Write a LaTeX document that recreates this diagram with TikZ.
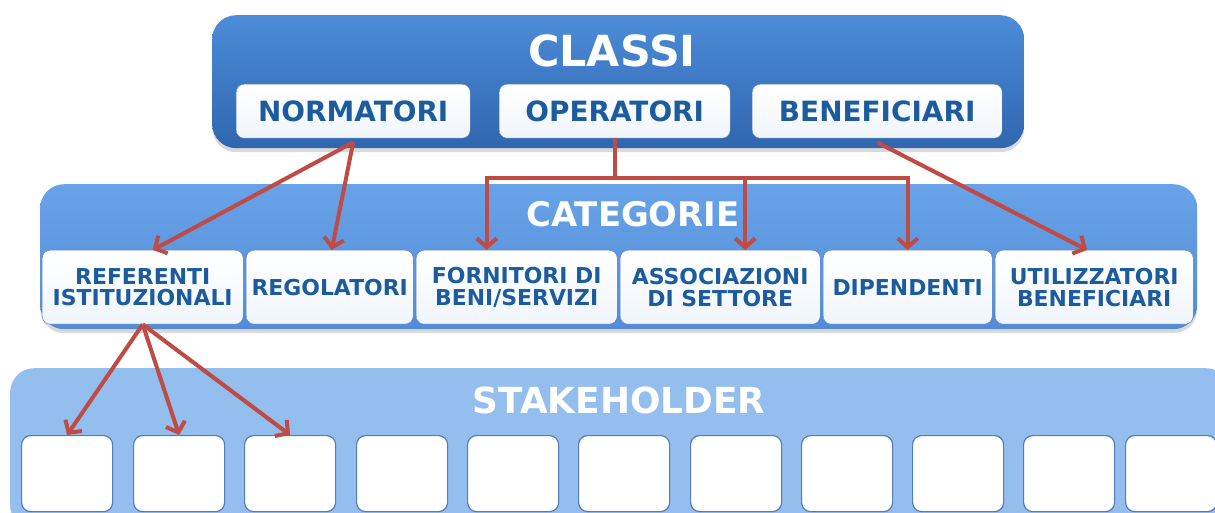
\documentclass[tikz,border=0pt]{standalone}
\usepackage{fontspec}
\setmainfont{DejaVu Sans}
\usetikzlibrary{arrows.meta,shadows}
\definecolor{classitop}{RGB}{76,140,216}
\definecolor{classibot}{RGB}{48,102,176}
\definecolor{cattop}{RGB}{104,162,232}
\definecolor{catbot}{RGB}{82,140,214}
\definecolor{stakeblue}{RGB}{147,190,238}
\definecolor{boxline}{RGB}{86,124,180}
\definecolor{boxtext}{RGB}{28,92,158}
\definecolor{linkred}{RGB}{192,74,68}
\tikzset{
	panel/.style={rounded corners=24bp,inner sep=0pt,anchor=north west,
		drop shadow={shadow xshift=0bp,shadow yshift=-4bp,opacity=.3}},
	paneltitle/.style 2 args={text=white,font=\fontsize{#1}{#1}\selectfont\bfseries,name=#2},
	classbox/.style={rounded corners=8bp,inner sep=2pt,anchor=north west,draw=boxline,
		top color=white,bottom color=white!90!cattop,text=boxtext,
		font=\fontsize{28}{30}\selectfont\bfseries,minimum height=54bp},
	catbox/.style={classbox,align=center,font=\fontsize{22}{22}\selectfont\bfseries,minimum height=74bp},
	shbox/.style={rounded corners=9bp,anchor=north west,draw=boxline,line width=1.2bp,
		fill=white,minimum width=91bp,minimum height=76bp},
	link/.style={draw=linkred,line width=4bp,-{Straight Barb[length=9bp,width=20bp]}}
}
\begin{document}
\begin{tikzpicture}[x=1bp,y=-1bp]
	\useasboundingbox (0,0) rectangle (1215,513);

	% pannelli
	\node [panel,top color=classitop,bottom color=classibot,minimum width=812bp,minimum height=133bp] (classi) at (212,15) {};
	\node [panel,top color=cattop,bottom color=catbot,minimum width=1157bp,minimum height=145bp] (categorie) at (40,184) {};
	\node [panel,fill=stakeblue,minimum width=1220bp,minimum height=160bp] (stakeholder) at (10,368) {};

	\node [paneltitle={43}{classititle}] at (612,51) {CLASSI};
	\node [paneltitle={34}{cattitle}] at (633,214) {CATEGORIE};
	\node [paneltitle={36}{shtitle}] at (619,400) {STAKEHOLDER};

	% classi
	\node [classbox,minimum width=234bp] (normatori) at (236,84) {NORMATORI};
	\node [classbox,minimum width=231bp] (operatori) at (499,84) {OPERATORI};
	\node [classbox,minimum width=250bp] (beneficiari) at (752,84) {BENEFICIARI};

	% categorie
	\node [catbox,minimum width=201bp] (referenti) at (42,250) {REFERENTI\\ISTITUZIONALI};
	\node [catbox,minimum width=167bp] (regolatori) at (246,250) {REGOLATORI};
	\node [catbox,minimum width=201bp] (fornitori) at (416,250) {FORNITORI DI\\BENI/SERVIZI};
	\node [catbox,minimum width=200bp] (associazioni) at (620,250) {ASSOCIAZIONI\\DI SETTORE};
	\node [catbox,minimum width=169bp] (dipendenti) at (823,250) {DIPENDENTI};
	\node [catbox,minimum width=198bp] (utilizzatori) at (995,250) {UTILIZZATORI\\BENEFICIARI};

	% stakeholder
	\foreach \x [count=\i] in {21,133,244,356,467,578,690,801,912,1023,1125}
		\node [shbox] (sh\i) at (\x,435) {};

	% collegamenti
	\draw [link] ([yshift=-4bp]normatori.south) -- ([xshift=10bp]referenti.north);
	\draw [link] ([yshift=-4bp]normatori.south) -- ([xshift=2bp]regolatori.north);
	\path (operatori.south) ++(0,40) coordinate (opbar);
	\draw [link] (operatori.south) -- (opbar) -| ([xshift=-30bp]fornitori.north);
	\draw [link] (opbar) -| (dipendenti.north);
	\draw [link] ([xshift=25bp]associazioni.north |- opbar) -- ([xshift=25bp]associazioni.north);
	\draw [link] ([yshift=-4bp]beneficiari.south) -- ([xshift=-7bp]utilizzatori.north);
	\draw [link] (referenti.south) -- (sh1.north);
	\draw [link] (referenti.south) -- (sh2.north);
	\draw [link] (referenti.south) -- (sh3.north);
\end{tikzpicture}
\end{document}
